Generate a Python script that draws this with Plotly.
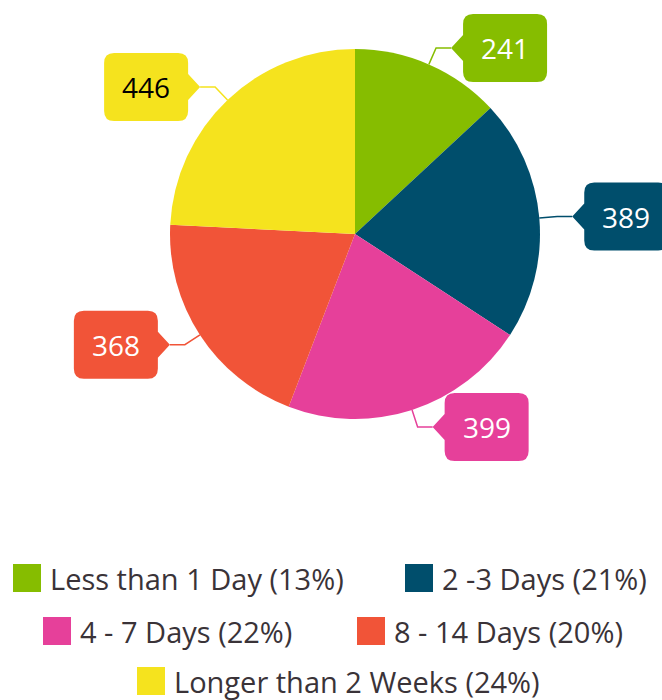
import math
import plotly.graph_objects as go

categories = ["Less than 1 Day", "2 -3 Days", "4 - 7 Days", "8 - 14 Days", "Longer than 2 Weeks"]
values = [241, 389, 399, 368, 446]
colors = ["#86BD00", "#004E6C", "#E6409A", "#F15438", "#F5E31E"]
label_text_colors = ["white", "white", "white", "white", "black"]

W, H = 662, 700
CX, CY, R = 355, 234, 185

def px(x):
    return x / W

def py(y):
    return 1 - y / H

total = sum(values)
pcts = [round(100 * v / total) for v in values]

fig = go.Figure()
fig.add_trace(go.Pie(
    labels=categories, values=values, sort=False, direction="clockwise", rotation=0,
    marker=dict(colors=colors, line=dict(width=0)), textinfo="none", hoverinfo="label+value",
    showlegend=False,
    domain=dict(x=[px(CX - R), px(CX + R)], y=[py(CY + R), py(CY - R)]),
))

shapes = []
annotations = []
cum = 0
BW, BH, CR = 84, 68, 10
for i, v in enumerate(values):
    mid = (cum + v / 2) / total * 2 * math.pi
    cum += v
    sx, sy = math.sin(mid), -math.cos(mid)
    ex, ey = CX + R * sx, CY + R * sy
    elx, ely = CX + (R + 18) * sx, CY + (R + 18) * sy
    side = 1 if sx >= 0 else -1
    tipx = elx + side * 15
    edge = tipx + side * 12
    bcx = edge + side * BW / 2
    bcy = ely
    shapes.append(dict(type="path", xref="paper", yref="paper",
                       path=f"M {px(ex)},{py(ey)} L {px(elx)},{py(ely)} L {px(tipx)},{py(ely)}",
                       line=dict(color=colors[i], width=1.5)))
    x0, x1 = bcx - BW / 2, bcx + BW / 2
    y0, y1 = bcy - BH / 2, bcy + BH / 2

    def P(x, y):
        return f"{px(x)},{py(y)}"
    if side == 1:
        path = (f"M {P(x0 + CR, y0)} L {P(x1 - CR, y0)} Q {P(x1, y0)} {P(x1, y0 + CR)} "
                f"L {P(x1, y1 - CR)} Q {P(x1, y1)} {P(x1 - CR, y1)} L {P(x0 + CR, y1)} "
                f"Q {P(x0, y1)} {P(x0, y1 - CR)} L {P(x0, bcy + 13)} L {P(tipx, bcy)} "
                f"L {P(x0, bcy - 13)} L {P(x0, y0 + CR)} Q {P(x0, y0)} {P(x0 + CR, y0)} Z")
    else:
        path = (f"M {P(x0 + CR, y0)} L {P(x1 - CR, y0)} Q {P(x1, y0)} {P(x1, y0 + CR)} "
                f"L {P(x1, bcy - 13)} L {P(tipx, bcy)} L {P(x1, bcy + 13)} "
                f"L {P(x1, y1 - CR)} Q {P(x1, y1)} {P(x1 - CR, y1)} L {P(x0 + CR, y1)} "
                f"Q {P(x0, y1)} {P(x0, y1 - CR)} L {P(x0, y0 + CR)} Q {P(x0, y0)} {P(x0 + CR, y0)} Z")
    shapes.append(dict(type="path", xref="paper", yref="paper", path=path,
                       fillcolor=colors[i], line=dict(width=0)))
    annotations.append(dict(x=px(bcx), y=py(bcy), xref="paper", yref="paper", text=str(v),
                            showarrow=False, xanchor="center", yanchor="middle",
                            font=dict(family="Open Sans", size=28, color=label_text_colors[i])))

# legend layout (row y centers, swatch x positions)
legend_layout = [(578, 13), (578, 405), (631, 43), (631, 357), (681, 137)]
SW = 28
for i, (ry, sx0) in enumerate(legend_layout):
    shapes.append(dict(type="rect", xref="paper", yref="paper",
                       x0=px(sx0), x1=px(sx0 + SW), y0=py(ry + SW / 2), y1=py(ry - SW / 2),
                       fillcolor=colors[i], line=dict(width=0)))
    annotations.append(dict(x=px(sx0 + SW + 7), y=py(ry), xref="paper", yref="paper",
                            text=f"{categories[i]} ({pcts[i]}%)", showarrow=False,
                            xanchor="left", yanchor="middle",
                            font=dict(family="Open Sans", size=29, color="#3a3338")))

fig.update_layout(width=W, height=H, margin=dict(l=0, r=0, t=0, b=0),
                  paper_bgcolor="white", plot_bgcolor="white",
                  shapes=shapes, annotations=annotations, showlegend=False)
fig.write_html("out.html", config={"displayModeBar": False},
               post_script="document.body.style.margin='0';document.body.style.overflow='hidden';")
